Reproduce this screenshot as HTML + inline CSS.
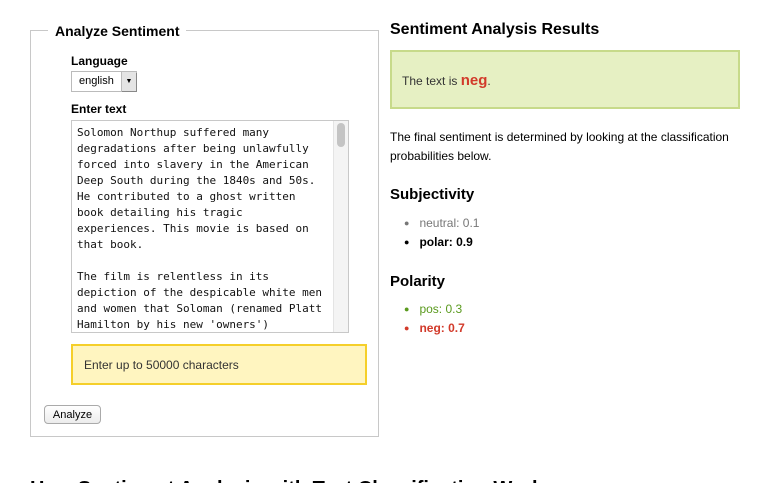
<!DOCTYPE html>
<html><head><meta charset="utf-8"><style>
html,body{margin:0;width:776px;height:483px;overflow:hidden}
body{background:#fff;font-family:"Liberation Sans",sans-serif;color:#000;position:relative}
.a{position:absolute;white-space:nowrap}
.b{font-size:9px;vertical-align:1px}
</style></head><body>
<div class="a" style="left:30px;top:30px;width:347px;height:405px;border:1px solid #c8c8c8"></div>
<div class="a" style="left:48px;top:21px;padding:0 7px;background:#fff;font-weight:bold;font-size:14px;line-height:20px">Analyze Sentiment</div>
<div class="a" style="left:71px;top:54px;font-weight:bold;font-size:12px">Language</div>
<div class="a" style="left:71px;top:71px;width:64px;height:19px;border:1px solid #bbb;font-size:11px;line-height:19px;box-sizing:content-box"><span style="padding-left:7px">english</span><span style="position:absolute;right:0;top:0;width:14px;height:19px;background:#e4e4e4;border-left:1px solid #bbb;font-size:7px;text-align:center;line-height:19px;box-shadow:1px 1px 0 #888">▼</span></div>
<div class="a" style="left:71px;top:102px;font-weight:bold;font-size:12px">Enter text</div>
<div class="a" style="left:71px;top:120px;width:276px;height:211px;border:1px solid #c8c8c8;overflow:hidden;font-family:'DejaVu Sans Mono','Liberation Mono',monospace;font-size:11px;line-height:16px;color:#111">
<div style="padding:4px 0 0 5px;white-space:pre">Solomon Northup suffered many
degradations after being unlawfully
forced into slavery in the American
Deep South during the 1840s and 50s.
He contributed to a ghost written
book detailing his tragic
experiences. This movie is based on
that book.

The film is relentless in its
depiction of the despicable white men
and women that Soloman (renamed Platt
Hamilton by his new 'owners')</div>
<div style="position:absolute;right:0;top:0;width:14px;height:211px;background:#f4f4f4;border-left:1px solid #e4e4e4"><div style="margin:2px 3px;width:8px;height:24px;border-radius:4px;background:#c4c4c4"></div></div>
</div>
<div class="a" style="left:71px;top:344px;width:292px;height:37px;border:2px solid #f5cf2a;background:#fff5c0;font-size:12px;line-height:39px;color:#333"><span style="padding-left:11px">Enter up to 50000 characters</span></div>
<div class="a" style="left:44px;top:405px;width:55px;height:17px;border:1px solid #aaa;border-radius:4px;background:linear-gradient(#fff,#ececec);font-size:11px;line-height:18px;text-align:center">Analyze</div>

<div class="a" style="left:390px;top:21px;font-weight:bold;font-size:16px">Sentiment Analysis Results</div>
<div class="a" style="left:390px;top:50px;width:346px;height:55px;border:2px solid #c7da8a;background:#e6f0c3;font-size:12px;line-height:57px;color:#333"><span style="padding-left:10px">The text is <b style="color:#d23a2a;font-size:15px">neg</b>.</span></div>
<div class="a" style="left:390px;top:128px;font-size:12px;line-height:19px">The final sentiment is determined by looking at the classification<br>probabilities below.</div>
<div class="a" style="left:390px;top:186px;font-weight:bold;font-size:15px">Subjectivity</div>
<div class="a" style="left:404px;top:216px;font-size:12px;color:#777"><span class="b">●</span>&nbsp;&nbsp; neutral: 0.1</div>
<div class="a" style="left:404px;top:235px;font-size:12px;font-weight:bold"><span class="b">●</span>&nbsp;&nbsp; polar: 0.9</div>
<div class="a" style="left:390px;top:273px;font-weight:bold;font-size:15px">Polarity</div>
<div class="a" style="left:404px;top:302px;font-size:12px;color:#5a9a1e"><span class="b">●</span>&nbsp;&nbsp; pos: 0.3</div>
<div class="a" style="left:404px;top:321px;font-size:12px;font-weight:bold;color:#d23a2a"><span class="b">●</span>&nbsp;&nbsp; neg: 0.7</div>

<div class="a" style="left:30px;top:478px;font-weight:bold;font-size:20px">How Sentiment Analysis with Text Classification Works</div>
</body></html>
